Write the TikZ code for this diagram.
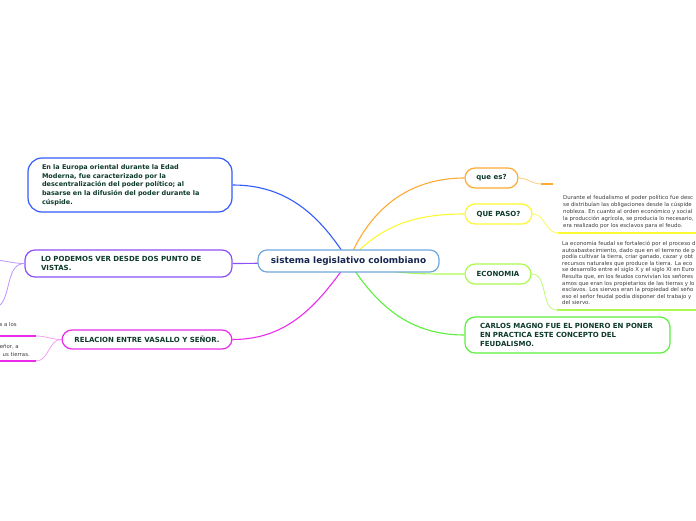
\documentclass[tikz,border=0pt]{standalone}
\usepackage{fontspec}
\setmainfont{DejaVu Sans}
\usepackage{xcolor}
\usetikzlibrary{
  backgrounds,
}
\definecolor{rootline}{RGB}{111,168,220}
\definecolor{roottext}{RGB}{22,38,78}
\definecolor{topictext}{RGB}{14,58,44}
\definecolor{notegray}{RGB}{60,60,60}
\definecolor{famblue}{RGB}{51,90,255}
\definecolor{fampurple}{RGB}{140,80,250}
\definecolor{fammagenta}{RGB}{235,45,235}
\definecolor{famorange}{RGB}{255,170,51}
\definecolor{famyellow}{RGB}{250,250,50}
\definecolor{famlime}{RGB}{170,250,80}
\definecolor{famgreen}{RGB}{90,240,60}
\tikzset{
  rootnode/.style={
    rectangle, draw=rootline, line width=1.2pt, fill=white,
    rounded corners=9pt, minimum width=181pt, minimum height=22pt,
    font=\fontsize{8.9}{10}\selectfont\bfseries, text=roottext, inner sep=0pt
  },
  topicbox/.style={
    rectangle, line width=1.2pt, fill=white, rounded corners=10pt,
    font=\fontsize{7}{9}\selectfont\bfseries, text=topictext,
    inner sep=0pt, align=left
  },
  notetext/.style={
    font=\fontsize{5.4}{6.6}\selectfont, text=notegray,
    align=left, inner sep=0pt
  },
  branch/.style={line width=1.1pt},
  subbranch/.style={line width=0.8pt},
  underline/.style={line width=2pt},
}

\begin{document}
\begin{tikzpicture}[x=1pt, y=1pt]

  \useasboundingbox (0,0) rectangle (696,520);
  \clip (0,0) rectangle (696,520);

  % ── Root ──
  \node[rootnode] (root) at (348.5,259) {sistema legislativo colombiano};

  % ── Left topics ──
  \node[topicbox, draw=famblue, rounded corners=14pt, text width=176pt,
        inner xsep=14pt, minimum height=54pt,
        font=\fontsize{6.5}{8.7}\selectfont\bfseries] (europa) at (130,335) {
    En la Europa oriental durante la Edad\\
    Moderna, fue caracterizado por la\\
    descentralización del poder político; al\\
    basarse en la difusión del poder durante la\\
    cúspide.
  };
  \node[topicbox, draw=fampurple, text width=175pt, inner xsep=16pt,
        minimum height=27pt] (vistas) at (128.5,256.5) {
    LO PODEMOS VER DESDE DOS PUNTO DE\\
    VISTAS.
  };
  \node[topicbox, draw=fammagenta, align=center, minimum width=170pt,
        minimum height=19pt] (relacion) at (147,180.5)
    {RELACION ENTRE VASALLO Y SEÑOR.};

  % ── Right topics ──
  \node[topicbox, draw=famorange, align=center, minimum width=53pt,
        minimum height=20pt] (quees) at (491.5,342) {que es?};
  \node[topicbox, draw=famyellow, align=center, minimum width=67pt,
        minimum height=20pt] (quepaso) at (498.5,306) {QUE PASO?};
  \node[topicbox, draw=famlime, align=center, minimum width=66pt,
        minimum height=20pt] (economia) at (498,246) {ECONOMIA};
  \node[topicbox, draw=famgreen, text width=175pt, inner xsep=15pt,
        minimum height=36pt] (carlos) at (567.5,185) {
    CARLOS MAGNO FUE EL PIONERO EN PONER\\
    EN PRACTICA ESTE CONCEPTO DEL\\
    FEUDALISMO.
  };

  % ── Notes ──
  \node[notetext, anchor=north west, font=\fontsize{5.4}{7}\selectfont] (pasonote) at (563,325) {
    Durante el feudalismo el poder político fue desc\\
    se distribuían las obligaciones desde la cúspide\\
    nobleza. En cuanto al orden económico y social\\
    la producción agrícola, se producía lo necesario,\\
    era realizado por los esclavos para el feudo.
  };
  \node[notetext, anchor=north west] (econnote) at (562,279) {
    La economía feudal se fortaleció por el proceso d\\
    autoabastecimiento, dado que en el terreno de p\\
    podía cultivar la tierra, criar ganado, cazar y obt\\
    recursos naturales que produce la tierra. La eco\\
    se desarrollo entre el siglo X y el siglo XI en Euro\\
    Resulta que, en los feudos convivían los señores\\
    amos que eran los propietarios de las tierras y lo\\
    esclavos. Los siervos eran la propiedad del seño\\
    eso el señor feudal podía disponer del trabajo y\\
    del siervo.
  };
  \node[notetext, anchor=east] (relnoteA) at (17,196) {s a los};
  \node[notetext, anchor=east] (relnoteB) at (19,173) {eñor, a};
  \node[notetext, anchor=east] (relnoteC) at (30,166) {us tierras.};

  % ── Free ends ──
  \coordinate (quesEnd) at (541,336);
  \coordinate (quesTip) at (553,336);
  \coordinate (pasoEnd) at (558,287);
  \coordinate (pasoTip) at (700,287);
  \coordinate (econEnd) at (557,210);
  \coordinate (econTip) at (700,210);
  \coordinate (vistasUp) at (-8,260);
  \coordinate (vistasDown) at (-8,212);
  \coordinate (relUp) at (36,184);
  \coordinate (relUpTip) at (-5,184);
  \coordinate (relDown) at (36,159);
  \coordinate (relDownTip) at (-5,159);

  % ── Branches ──
  \begin{scope}[on background layer]
    \draw[branch, famblue] (root.center) to[out=122, in=0] (europa.east);
    \draw[branch, fampurple] (root.center) to[out=180, in=0] (vistas.east);
    \draw[branch, fammagenta] (root.center) to[out=-125, in=0] (relacion.east);
    \draw[branch, famorange] (root.center) to[out=68, in=180] (quees.west);
    \draw[branch, famyellow] (root.center) to[out=48, in=180] (quepaso.west);
    \draw[branch, famlime] (root.center) to[out=-18, in=180] (economia.west);
    \draw[branch, famgreen] (root.center) to[out=-58, in=180] (carlos.west);
  \end{scope}

  % ── Sub branches ──
  \draw[subbranch, famorange!60] (quees.east) to[out=0, in=180] (quesEnd);
  \draw[underline, famorange] (quesEnd) -- (quesTip);
  \draw[subbranch, famyellow!80] (quepaso.east) to[out=0, in=180] (pasoEnd);
  \draw[underline, famyellow] (pasoEnd) -- (pasoTip);
  \draw[subbranch, famlime!80] (economia.east) to[out=0, in=180] (econEnd);
  \draw[underline, famlime] (econEnd) -- (econTip);
  \draw[subbranch, fampurple!60] (vistas.west) to[out=180, in=0] (vistasUp);
  \draw[subbranch, fampurple!60] (vistas.west) to[out=180, in=0] (vistasDown);
  \draw[subbranch, fammagenta!45] (relacion.west) to[out=180, in=0] (relUp);
  \draw[underline, fammagenta] (relUp) -- (relUpTip);
  \draw[subbranch, fammagenta!45] (relacion.west) to[out=180, in=0] (relDown);
  \draw[underline, fammagenta] (relDown) -- (relDownTip);

\end{tikzpicture}
\end{document}
